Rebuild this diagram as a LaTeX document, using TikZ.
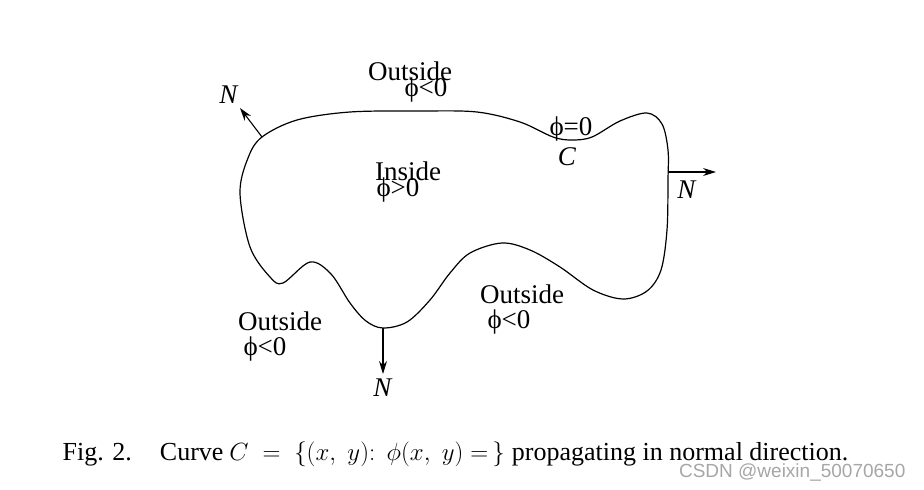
\documentclass[tikz,border=0pt]{standalone}
\usepackage{fontspec}
\setmainfont{Liberation Serif}
\newfontfamily\wmfont{Liberation Sans}
\usetikzlibrary{arrows.meta}
\tikzset{
  lbl/.style={font=\fontsize{27}{27}\selectfont, inner sep=0pt},
  normal/.style={line width=1.1pt, -{Stealth[length=13pt,width=8pt]}},
}
\begin{document}
\begin{tikzpicture}[x=1pt,y=-1pt, line width=1.2pt]{
    \useasboundingbox (0,0) rectangle (924,490);
    % the curve C
    \draw plot[smooth cycle, tension=0.55] coordinates {
      (262,137) (297,120) (350,112) (420,111) (477,112) (520,122) (553,137)
      (572,140) (592,137) (620,121) (647,113) (662,124) (668,150) (668,180)
      (667,230) (661,270) (647,291) (623,299) (593,290) (560,267) (530,250)
      (502,243) (470,253) (450,273) (430,300) (407,322) (383,328) (366,321)
      (350,303) (331,274) (310,262) (283,283) (270,277) (250,247) (240,193)
      (248,158)};
    \coordinate (P1) at (262,137);
    \coordinate (P2) at (669,172);
    \coordinate (P3) at (383,328);
    \coordinate (Q1) at (240,108);
    \coordinate (Q2) at (716,172);
    \coordinate (Q3) at (383,374);

    \node [lbl] (out1) at (410,71) {Outside};
    \node [lbl] (phi1) at (426,90) {ϕ<0};
    \node [lbl] (in) at (408,171) {Inside};
    \node [lbl] (phi2) at (398,190) {ϕ>0};
    \node [lbl] (phi0) at (571,129) {ϕ=0};
    \node [lbl] (C) at (567,157) {\textit{C}};
    \node [lbl] (out2) at (280,321) {Outside};
    \node [lbl] (phi3) at (265,349) {ϕ<0};
    \node [lbl] (out3) at (522,294) {Outside};
    \node [lbl] (phi4) at (509,322) {ϕ<0};
    \node [lbl] (N1) at (229,95) {\textit{N}};
    \node [lbl] (N2) at (687,190) {\textit{N}};
    \node [lbl] (N3) at (383,388) {\textit{N}};

    \path [normal] (P1) edge (Q1);
    \path [normal] (P2) edge (Q2);
    \path [normal] (P3) edge (Q3);

    \node [anchor=base west, inner sep=0pt, font=\fontsize{26}{26}\selectfont] (cap) at (62,460)
      {Fig. 2.\hspace{28pt}Curve\hspace{6pt}{\fontsize{29}{29}\selectfont$C\;=\;\{(x,\ y)\colon\ \phi(x,\ y)=\,\}$}\hspace{7pt}propagating in normal direction.};
    \node [anchor=base east, inner sep=0pt, gray!70, font=\wmfont\fontsize{19}{19}\selectfont] (wm) at (906,477)
      {CSDN @weixin\_50070650};
    }
\end{tikzpicture}
\end{document}
